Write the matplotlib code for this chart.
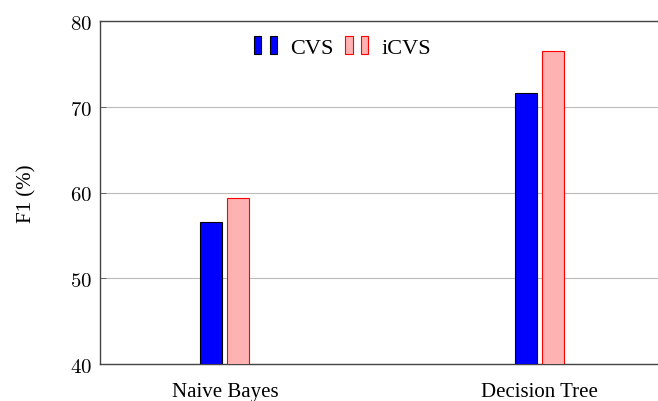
import matplotlib
matplotlib.use("Agg")
import matplotlib.pyplot as plt
from matplotlib.patches import Rectangle
from matplotlib.legend_handler import HandlerBase
import numpy as np

categories = ["Naive Bayes", "Decision Tree"]
cvs = [56.6, 71.6]
icvs = [59.4, 76.5]
series_names = ["CVS", "iCVS"]
yticks = [40, 50, 60, 70, 80]

plt.rcParams["mathtext.fontset"] = "cm"
text_font = "Liberation Serif"


class TwoBarHandler(HandlerBase):
    def create_artists(self, legend, orig_handle, xdescent, ydescent,
                       width, height, fontsize, trans):
        fc = orig_handle.get_facecolor()
        ec = orig_handle.get_edgecolor()
        bw = width * 0.3
        h = height * 1.2
        arts = []
        for x0 in (width * 0.0, width * 0.62):
            r = Rectangle((x0 - xdescent, -ydescent - 0.08 * height), bw, h,
                          facecolor=fc, edgecolor=ec, lw=0.8, transform=trans)
            arts.append(r)
        return arts


fig = plt.figure(figsize=(6.58, 4.02), dpi=100)
ax = fig.add_axes([100 / 658, 37 / 402, 564 / 658, 343 / 402])

x = np.arange(len(categories))
w = 0.07
off = 0.043
b1 = ax.bar(x - off, cvs, w, color="#0000ff", edgecolor="black", lw=0.8,
            label=series_names[0], zorder=3)
b2 = ax.bar(x + off, icvs, w, color="#ffb2b2", edgecolor="#ff0000", lw=0.8,
            label=series_names[1], zorder=3)

ax.set_xlim(-0.398, 1.398)
ax.set_ylim(40, 80)
ax.set_yticks(yticks)
ax.set_yticklabels([r"$%d$" % v for v in yticks], fontsize=15)
ax.set_xticks(x)
ax.set_xticklabels(categories, fontfamily=text_font, fontsize=15)
ax.tick_params(axis="x", length=0, pad=13)
ax.tick_params(axis="y", direction="in", length=4, width=0.6, pad=6,
               color="#555555")
ax.yaxis.grid(True, color="#bbbbbb", lw=0.8, zorder=0)
ax.set_axisbelow(True)
for s in ax.spines.values():
    s.set_color("#444444")
    s.set_linewidth(1.0)
ax.spines["right"].set_visible(False)

ax.set_ylabel("F1 (%)", fontfamily=text_font, fontsize=15, labelpad=24)

leg = ax.legend(handles=[b1.patches[0], b2.patches[0]], labels=series_names,
                handler_map={Rectangle: TwoBarHandler()},
                loc="upper center", bbox_to_anchor=(0.43, 1.01), ncol=2,
                frameon=False, prop={"family": text_font, "size": 16},
                handlelength=1.15, handletextpad=0.5, columnspacing=0.5)

fig.savefig("out.png", dpi=100)
